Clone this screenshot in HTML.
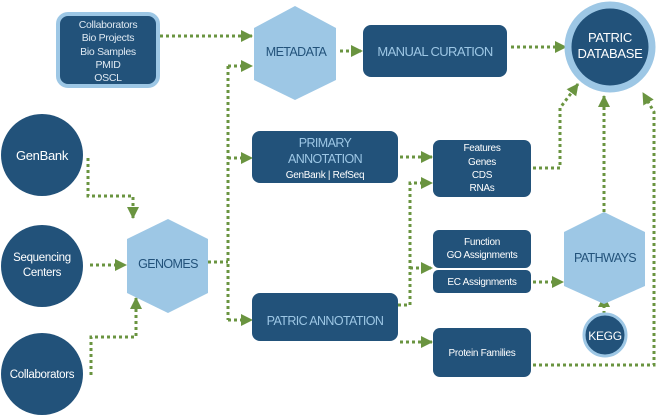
<!DOCTYPE html>
<html><head><meta charset="utf-8"><style>
html,body{margin:0;padding:0;background:#fff;}
svg{display:block;font-family:"Liberation Sans",sans-serif;}
.t{letter-spacing:-0.6px;}
.s{letter-spacing:-0.3px;}
</style></head><body>
<svg width="660" height="416" viewBox="0 0 660 416" xmlns="http://www.w3.org/2000/svg">
<defs>
<marker id="a" markerWidth="12" markerHeight="12" refX="11" refY="6" orient="auto" markerUnits="userSpaceOnUse">
<path d="M0,0 L12,6 L0,12 Z" fill="#6a9440"/></marker>
</defs>
<g fill="none" stroke="#6a9440" stroke-width="3" stroke-dasharray="3 3">
<path d="M160,36 H252" marker-end="url(#a)"/>
<path d="M208,262 H228"/>
<path d="M228,66 V320"/>
<path d="M228,66 H252" marker-end="url(#a)"/>
<path d="M228,158 H252" marker-end="url(#a)"/>
<path d="M228,320 H252" marker-end="url(#a)"/>
<path d="M88,158 V196 H133 V218" marker-end="url(#a)"/>
<path d="M90,265 H126" marker-end="url(#a)"/>
<path d="M91,375 V337 H136 V298" marker-end="url(#a)"/>
<path d="M340,51 H362" marker-end="url(#a)"/>
<path d="M511,47 H566" marker-end="url(#a)"/>
<path d="M400,157 H432" marker-end="url(#a)"/>
<path d="M398,305 H410 V183 H432" marker-end="url(#a)"/>
<path d="M410,268 H432" marker-end="url(#a)"/>
<path d="M400,342 H432" marker-end="url(#a)"/>
<path d="M533,168 H560 V108 L578,84" marker-end="url(#a)"/>
<path d="M533,282 H563" marker-end="url(#a)"/>
<path d="M604,314 V296" marker-end="url(#a)"/>
<path d="M604,212 V96" marker-end="url(#a)"/>
<path d="M533,365 H654 V112 L643,93" marker-end="url(#a)"/>
</g>
<rect x="58" y="14" width="100" height="72" rx="10" fill="#22527a" stroke="#9dc7e5" stroke-width="4"/>
<g fill="#dfe9f2" font-size="10.5" text-anchor="middle" class="s">
<text x="108" y="28">Collaborators</text><text x="108" y="41">Bio Projects</text><text x="108" y="55">Bio Samples</text><text x="108" y="68">PMID</text><text x="108" y="81">OSCL</text>
</g>
<polygon points="295,6 336,28 336,80 295,100 254,80 254,28" fill="#9dc7e5"/>
<text x="296" y="56" font-size="12.5" fill="#22527a" text-anchor="middle" class="t">METADATA</text>
<rect x="363" y="25" width="144" height="52" rx="8" fill="#22527a"/>
<text x="435" y="56" font-size="13" fill="#9dc7e5" text-anchor="middle" class="t">MANUAL CURATION</text>
<circle cx="610" cy="47" r="42" fill="#22527a" stroke="#9dc7e5" stroke-width="7"/>
<text x="610" y="42" font-size="13" fill="#fff" text-anchor="middle" class="s">PATRIC</text>
<text x="610" y="58" font-size="13" fill="#fff" text-anchor="middle" class="s">DATABASE</text>
<circle cx="42" cy="155" r="41" fill="#22527a"/>
<text x="42" y="160" font-size="13" fill="#fff" text-anchor="middle" class="s">GenBank</text>
<circle cx="42" cy="266" r="41" fill="#22527a"/>
<text x="42" y="261" font-size="11.5" fill="#fff" text-anchor="middle" class="s">Sequencing</text>
<text x="42" y="276" font-size="11.5" fill="#fff" text-anchor="middle" class="s">Centers</text>
<circle cx="42" cy="374" r="41" fill="#22527a"/>
<text x="42" y="378" font-size="11.5" fill="#fff" text-anchor="middle" class="s">Collaborators</text>
<polygon points="168,219 208,239 208,293 168,313 127,293 127,239" fill="#9dc7e5"/>
<text x="168" y="268" font-size="12.5" fill="#22527a" text-anchor="middle" class="t">GENOMES</text>
<rect x="252" y="131" width="146" height="52" rx="8" fill="#22527a"/>
<text x="325" y="147" font-size="12.5" fill="#9dc7e5" text-anchor="middle" class="t">PRIMARY</text>
<text x="325" y="163" font-size="12.5" fill="#9dc7e5" text-anchor="middle" class="t">ANNOTATION</text>
<text x="325" y="178" font-size="10" fill="#fff" text-anchor="middle" class="s">GenBank | RefSeq</text>
<rect x="252" y="293" width="146" height="48" rx="8" fill="#22527a"/>
<text x="325" y="325" font-size="12.5" fill="#9dc7e5" text-anchor="middle" class="t">PATRIC ANNOTATION</text>
<rect x="433" y="140" width="98" height="57" rx="7" fill="#22527a"/>
<g fill="#fff" font-size="10" text-anchor="middle" class="s">
<text x="482" y="151">Features</text><text x="482" y="165">Genes</text><text x="482" y="178">CDS</text><text x="482" y="191">RNAs</text>
</g>
<rect x="433" y="230" width="98" height="38" rx="6" fill="#22527a"/>
<text x="482" y="245" font-size="10" fill="#fff" text-anchor="middle" class="s">Function</text>
<text x="482" y="258" font-size="10" fill="#fff" text-anchor="middle" class="s">GO Assignments</text>
<rect x="433" y="270" width="98" height="23" rx="5" fill="#22527a"/>
<text x="482" y="285" font-size="10" fill="#fff" text-anchor="middle" class="s">EC Assignments</text>
<rect x="433" y="328" width="98" height="49" rx="7" fill="#22527a"/>
<text x="482" y="356" font-size="10" fill="#fff" text-anchor="middle" class="s">Protein Families</text>
<polygon points="604,212 645,232 645,286 604,304 564,286 564,232" fill="#9dc7e5"/>
<text x="605" y="262" font-size="12.5" fill="#22527a" text-anchor="middle" class="t">PATHWAYS</text>
<circle cx="605" cy="335" r="21" fill="#22527a" stroke="#9dc7e5" stroke-width="3"/>
<text x="605" y="340" font-size="12" fill="#fff" text-anchor="middle" class="s">KEGG</text>
</svg>
</body></html>
